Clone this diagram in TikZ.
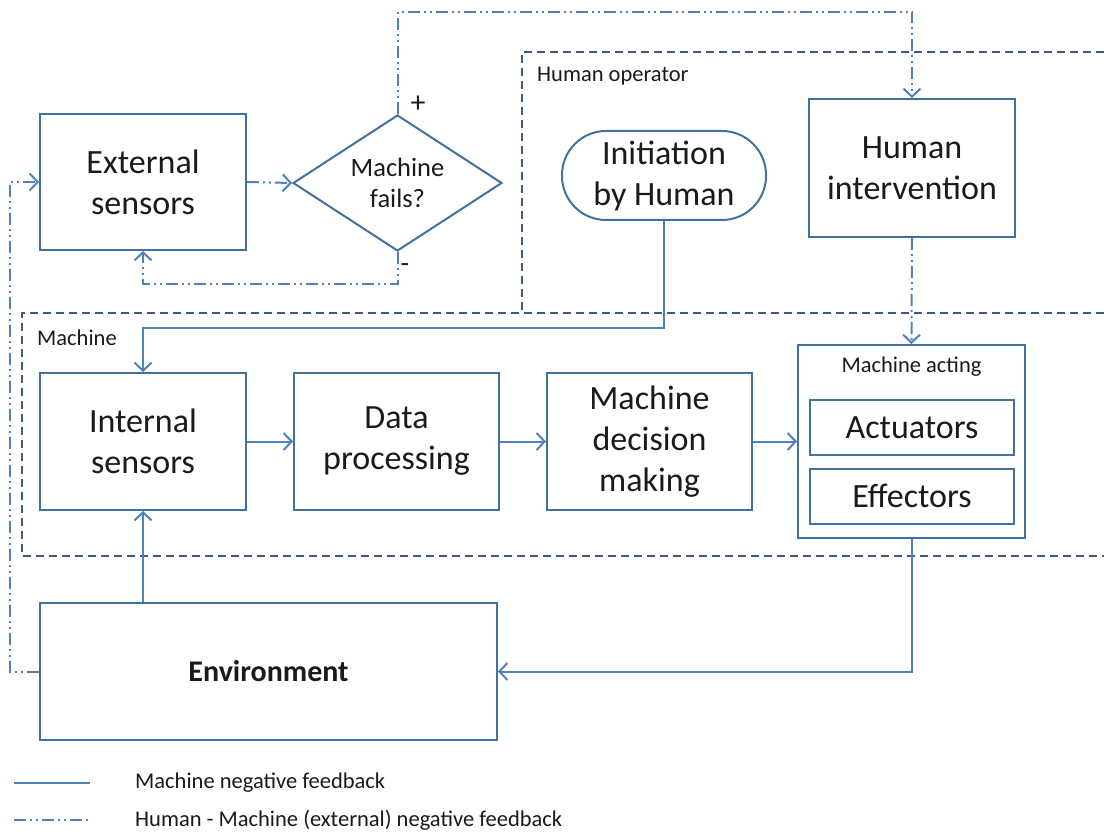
\documentclass[tikz,border=0pt]{standalone}
\usepackage{fontspec}
\setmainfont{Carlito}
\usetikzlibrary{arrows.meta,shapes.geometric}
\definecolor{boxline}{HTML}{41719C}
\definecolor{flow}{HTML}{4F81BD}
\definecolor{zone}{HTML}{3B5A86}
\definecolor{ink}{HTML}{1A1A1A}
\begin{document}
\begin{tikzpicture}[x=1pt,y=-1pt,
  box/.style={draw=boxline, line width=2pt, rectangle, inner sep=0pt, align=center,
    text=ink, font=\fontsize{34}{41}\selectfont},
  smallbox/.style={box, minimum width=204pt, minimum height=55pt},
  lbl/.style={text=ink, font=\fontsize{22.5}{27}\selectfont, inner sep=0pt},
  tip/.style={-{Straight Barb[length=8pt,width=17pt,line width=2pt]}},
  mfb/.style={draw=flow, line width=2pt},
  hfb/.style={draw=flow, line width=2pt,
    dash pattern=on 12pt off 4pt on 2pt off 4pt on 2pt off 4pt},
  zoneline/.style={draw=zone, line width=2pt, dash pattern=on 8pt off 5pt}]
\useasboundingbox (0,0) rectangle (1104,832);

% operator and machine zones
\draw[zoneline] (1104,52) -- (522,52) -- (522,313);
\draw[zoneline] (1104,313) -- (22,313) -- (22,556) -- (1104,556);
\node[lbl, anchor=west] (hoplbl) at (537,76) {Human operator};
\node[lbl, anchor=west] (mlbl) at (37,338) {Machine};

% blocks
\node[box, minimum width=206pt, minimum height=136pt] (ext) at (143,182) {External\\sensors};
\node[draw=boxline, line width=2pt, diamond, inner sep=0pt, aspect=1.5,
  minimum width=209pt, minimum height=136pt, align=center, text=ink,
  font=\fontsize{26.5}{31}\selectfont] (dia) at (397.5,183) {Machine\\fails?};
\node[box, rounded corners=44pt, minimum width=204pt, minimum height=89pt] (init) at (664,175.5) {Initiation\\by Human};
\node[box, minimum width=206pt, minimum height=138pt] (hi) at (912,168) {Human\\intervention};
\node[box, minimum width=206pt, minimum height=137pt] (ins) at (143,441.5) {Internal\\sensors};
\node[box, minimum width=205pt, minimum height=137pt] (dp) at (396.5,441.5) {Data\\processing};
\node[box, minimum width=205pt, minimum height=137pt] (dm) at (649.5,441.5) {Machine\\decision\\making};
\node[box, minimum width=227pt, minimum height=193pt] (act) at (911.5,441.5) {};
\node[lbl] (actlbl) at (911.5,367) {Machine acting};
\node[smallbox] (actu) at (912,427.5) {Actuators};
\node[smallbox] (effe) at (912,496) {Effectors};
\node[box, minimum width=457pt, minimum height=137pt,
  font=\fontsize{30}{36}\selectfont\bfseries] (env) at (268.5,671.5) {Environment};

\node[text=ink, font=\fontsize{30}{34}\selectfont, inner sep=0pt] (plus) at (418,104) {+};
\node[text=ink, font=\fontsize{28}{32}\selectfont, inner sep=0pt] (minus) at (405,268) {-};

% machine feedback loop
\draw[mfb, tip] (ins.east) -- (dp.west);
\draw[mfb, tip] (dp.east) -- (dm.west);
\draw[mfb, tip] (dm.east) -- (act.west);
\coordinate (inity) at (0,328);
\draw[mfb, tip] (init.south) -- (init.south |- inity) -| (ins.north);
\draw[mfb, tip] (ins.south |- env.north) -- (ins.south);
\draw[mfb, tip] (act.south) |- (env.east);

% human-machine (external) feedback loop
\coordinate (topy) at (0,12);
\coordinate (boty) at (0,284);
\coordinate (leftx) at (10,0);
\draw[hfb, tip] (ext.east) -- (dia.west);
\draw[hfb, tip] (dia.north) -- (dia.north |- topy) -| (hi.north);
\draw[hfb, tip] (dia.south) -- (dia.south |- boty) -| (ext.south);
\draw[hfb, tip] (hi.south) -- (act.north);
\draw[hfb, tip] (env.west) -- (env.west -| leftx) |- (ext.west);

% legend
\coordinate (la1) at (14,783);
\coordinate (la2) at (90,783);
\coordinate (lb1) at (14,820);
\coordinate (lb2) at (88,820);
\draw[mfb] (la1) -- (la2);
\draw[hfb] (lb1) -- (lb2);
\node[lbl, anchor=west] (leg1) at (135,783) {Machine negative feedback};
\node[lbl, anchor=west] (leg2) at (135,820) {Human - Machine (external) negative feedback};
\end{tikzpicture}
\end{document}
